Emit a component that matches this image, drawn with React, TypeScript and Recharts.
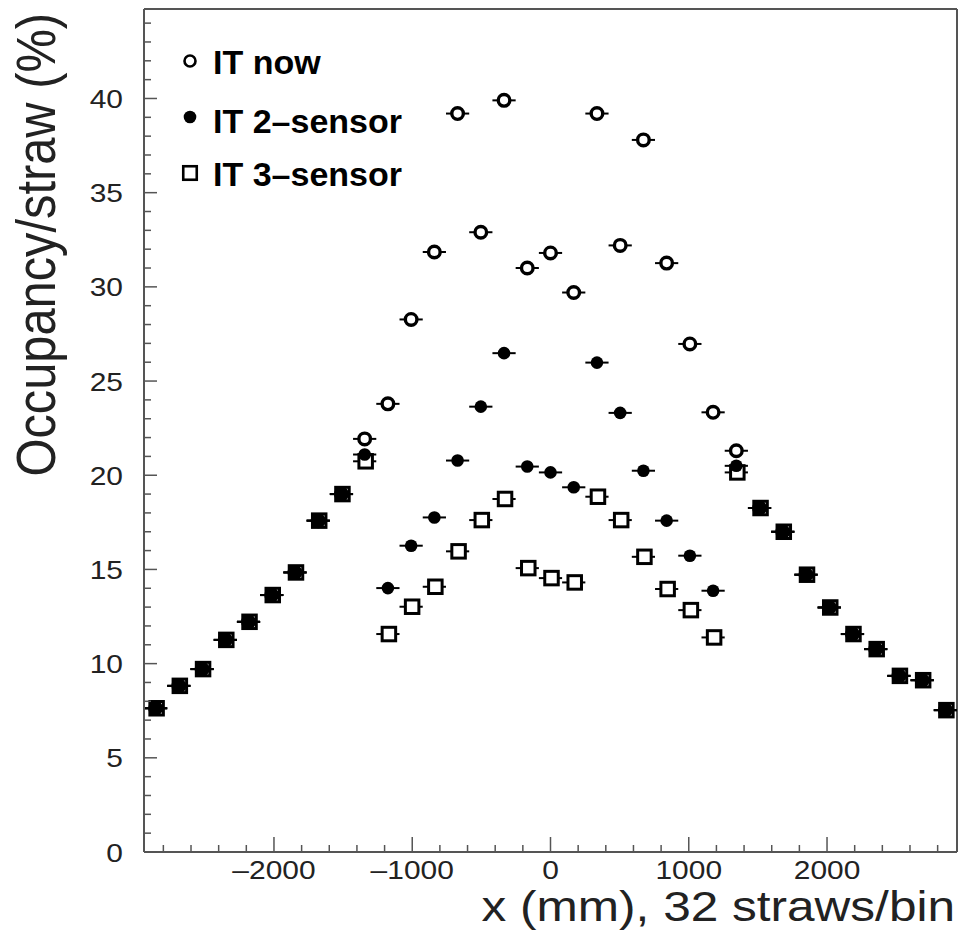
import React from 'react';
import { ScatterChart, Scatter, XAxis, YAxis, ErrorBar, ReferenceLine, Legend } from 'recharts';

// bin centres in mm (32 straws per bin, 168 mm wide)
const outerLeftX = [-2856, -2688, -2520, -2352, -2184, -2016, -1848, -1680, -1512];
const outerLeftY = [7.63, 8.82, 9.71, 11.26, 12.22, 13.64, 14.84, 17.59, 19.0];

const innerX = [-1344, -1176, -1008, -840, -672, -504, -336, -168, 0, 168, 336, 504, 672, 840, 1008, 1176, 1344];
const itNowY = [21.93, 23.79, 28.27, 31.85, 39.2, 32.9, 39.9, 31.0, 31.8, 29.7, 39.2, 32.2, 37.8, 31.26, 26.97, 23.34, 21.3];
const it2SensorY = [21.1, 14.01, 16.26, 17.76, 20.78, 23.64, 26.48, 20.46, 20.15, 19.36, 25.98, 23.31, 20.24, 17.59, 15.73, 13.87, 20.5];
const it3SensorY = [20.74, 11.57, 13.02, 14.08, 15.96, 17.62, 18.74, 15.07, 14.54, 14.31, 18.86, 17.62, 15.67, 13.96, 12.84, 11.39, 20.15];

const outerRightX = [1512, 1680, 1848, 2016, 2184, 2352, 2520, 2688, 2856];
const outerRightY = [18.26, 17.0, 14.72, 12.98, 11.57, 10.77, 9.35, 9.12, 7.53];

const halfBin = 84;

const xMajor = [-2000, -1000, 0, 1000, 2000];
const yMajor = [0, 5, 10, 15, 20, 25, 30, 35, 40];
const xTicks = Array.from({ length: 29 }, (_, i) => -2800 + i * 200);
const yTicks = Array.from({ length: 45 }, (_, i) => i);

const legendNames = ['IT now', 'IT 2\u2013sensor', 'IT 3\u2013sensor'];

const FONT = '"Liberation Sans", Arial, Helvetica, sans-serif';
const AXIS = '#555';
const SX = 1.13; // the figure is slightly stretched horizontally

const build = (inner: number[]) => [
  ...outerLeftX.map((x, i) => ({ x, y: outerLeftY[i], ex: halfBin })),
  ...innerX.map((x, i) => ({ x, y: inner[i], ex: halfBin })),
  ...outerRightX.map((x, i) => ({ x, y: outerRightY[i], ex: halfBin })),
];

const nowData = build(itNowY);
const twoData = build(it2SensorY);
const threeData = build(it3SensorY);

const OpenCircle = ({ cx, cy, r = 5.8, sw = 3.4 }: any) => (
  <circle cx={cx} cy={cy} r={r} fill="#fff" stroke="#000" strokeWidth={sw} />
);
const FullCircle = ({ cx, cy, r = 6.3 }: any) => <circle cx={cx} cy={cy} r={r} fill="#000" />;
const OpenSquare = ({ cx, cy, s = 13.5, sw = 3 }: any) => (
  <rect x={cx + 1 - s / 2} y={cy - s / 2} width={s} height={s} fill="#fff" stroke="#000" strokeWidth={sw} />
);

const XTick = (props: any) => {
  const { x, y, payload } = props;
  const v = payload.value;
  const major = xMajor.includes(v);
  return (
    <g>
      <line x1={x} x2={x} y1={y} y2={y - (major ? 15 : 7)} stroke={AXIS} strokeWidth={1.5} />
      {major && (
        <text transform={`translate(${x},${y + 27}) scale(${SX},1)`} textAnchor="middle"
          fontFamily={FONT} fontSize={26.5} fill="#222">
          {v < 0 ? `\u2013${-v}` : v}
        </text>
      )}
    </g>
  );
};

const YTick = (props: any) => {
  const { x, y, payload } = props;
  const v = payload.value;
  const major = yMajor.includes(v);
  return (
    <g>
      <line x1={x} x2={x + (major ? 13 : 7)} y1={y} y2={y} stroke={AXIS} strokeWidth={1.5} />
      {major && (
        <text transform={`translate(${x - 21},${y + 9.5}) scale(${SX},1)`} textAnchor="end"
          fontFamily={FONT} fontSize={26.5} fill="#222">
          {v}
        </text>
      )}
    </g>
  );
};

const XTitle = (props: any) => {
  const vb = props.viewBox || { x: 144, y: 852, width: 813, height: 79 };
  return (
    <text transform={`translate(${vb.x + vb.width - 2},${vb.y + 69}) scale(${SX * 1.02},1)`} textAnchor="end"
      fontFamily={FONT} fontSize={43} fill="#222">
      x (mm), 32 straws/bin
    </text>
  );
};

const YTitle = (props: any) => {
  const vb = props.viewBox || { x: 0, y: 9, width: 144, height: 843 };
  return (
    <text transform={`translate(${vb.x + 55},${vb.y + 4}) scale(${SX},1) rotate(-90)`} textAnchor="end"
      fontFamily={FONT} fontSize={48.8} fill="#222">
      Occupancy/straw (%)
    </text>
  );
};

const LegendBox = () => {
  const markerY = [61, 117, 173];
  const textY = [74, 133, 186];
  const markers = [
    <OpenCircle cx={190} cy={markerY[0]} r={5.5} sw={2.6} />,
    <FullCircle cx={190} cy={markerY[1]} r={6.3} />,
    <OpenSquare cx={189} cy={markerY[2]} s={13.5} sw={2.6} />,
  ];
  return (
    <svg width={420} height={210} style={{ display: 'block' }}>
      {legendNames.map((name, i) => (
        <g key={name}>
          {markers[i]}
          <text x={213} y={textY[i]} fontFamily={FONT} fontWeight="bold" fontSize={34} fill="#000">
            {name}
          </text>
        </g>
      ))}
    </svg>
  );
};

export default function App() {
  return (
    <div style={{ position: 'absolute', left: 0, top: 0, background: '#fff' }}>
      <ScatterChart width={960} height={931} margin={{ top: 9, right: 3, bottom: 0, left: 0 }}>
        <XAxis type="number" dataKey="x" domain={[-2940, 2940]} ticks={xTicks} interval={0}
          tick={<XTick />} tickLine={false} tickSize={0} tickMargin={0} height={79}
          axisLine={{ stroke: AXIS, strokeWidth: 2 }} label={<XTitle />} allowDataOverflow />
        <YAxis type="number" dataKey="y" domain={[0, 44.75]} ticks={yTicks} interval={0}
          tick={<YTick />} tickLine={false} tickSize={0} tickMargin={0} width={144}
          axisLine={{ stroke: AXIS, strokeWidth: 2 }} label={<YTitle />} allowDataOverflow />
        <ReferenceLine y={44.75} stroke={AXIS} strokeWidth={2} />
        <ReferenceLine x={2940} stroke={AXIS} strokeWidth={2} />
        <Legend layout="vertical" align="center" verticalAlign="middle" content={<LegendBox />}
          wrapperStyle={{ left: 0, top: 0, width: 420, height: 210 }} />
        <Scatter name={legendNames[2]} data={threeData} isAnimationActive={false}
          shape={(p: any) => <OpenSquare cx={p.cx} cy={p.cy} />}>
          <ErrorBar dataKey="ex" direction="x" width={0} stroke="#000" strokeWidth={2} isAnimationActive={false} />
        </Scatter>
        <Scatter name={legendNames[0]} data={nowData} isAnimationActive={false}
          shape={(p: any) => <OpenCircle cx={p.cx} cy={p.cy} />}>
          <ErrorBar dataKey="ex" direction="x" width={0} stroke="#000" strokeWidth={2} isAnimationActive={false} />
        </Scatter>
        <Scatter name={legendNames[1]} data={twoData} isAnimationActive={false}
          shape={(p: any) => <FullCircle cx={p.cx} cy={p.cy} />}>
          <ErrorBar dataKey="ex" direction="x" width={0} stroke="#000" strokeWidth={2} isAnimationActive={false} />
        </Scatter>
      </ScatterChart>
    </div>
  );
}
